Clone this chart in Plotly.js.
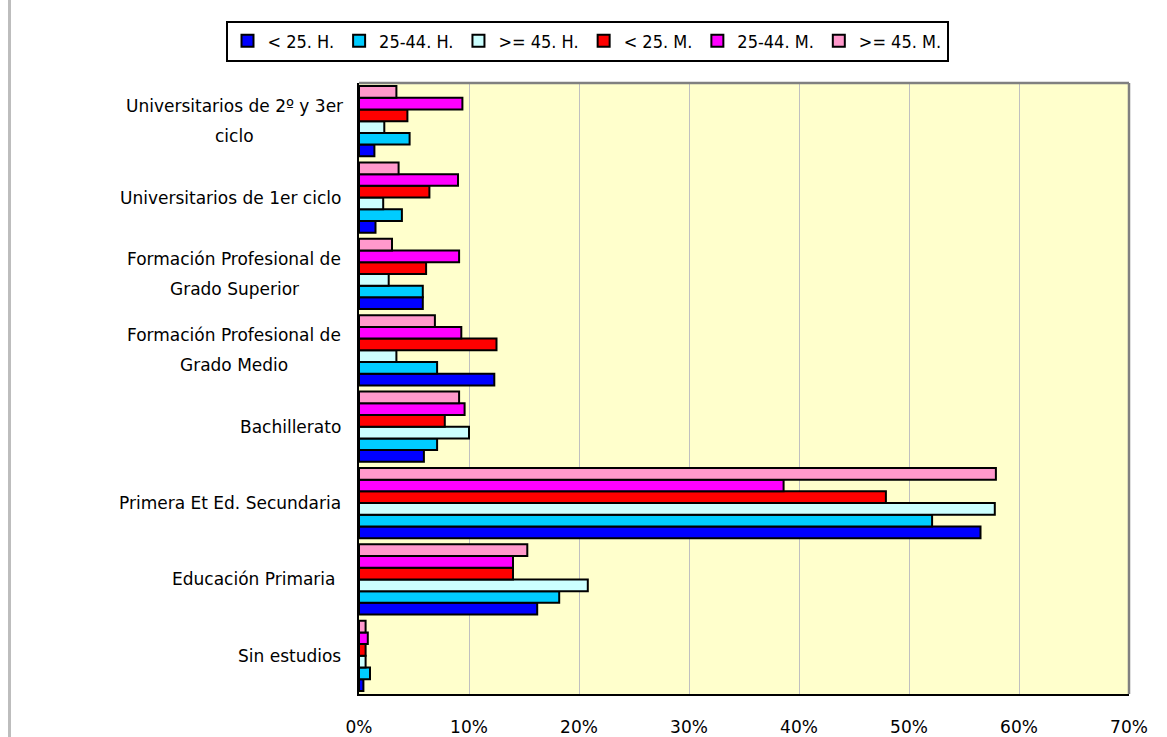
<!DOCTYPE html>
<html>
<head>
<meta charset="utf-8">
<script src="https://cdn.plot.ly/plotly-3.0.1.min.js"></script>
<style>
  html, body { margin: 0; padding: 0; background: #ffffff; }
  #chart { width: 1167px; height: 737px; position: relative; }
  #edge { position: absolute; left: 8px; top: 0; width: 3px; height: 737px; background: #bdbdbd; z-index: 5; }
</style>
</head>
<body>
<div id="edge"></div>
<div id="chart"></div>
<script>
// Categories (bottom to top); "\n" marks a line break in the axis label
const categories = [
  "Sin estudios",
  "Educación Primaria ",
  "Primera Et Ed. Secundaria",
  "Bachillerato",
  "Formación Profesional de\nGrado Medio",
  "Formación Profesional de\nGrado Superior",
  "Universitarios de 1er ciclo",
  "Universitarios de 2º y 3er\nciclo"
];

const seriesNames = ["< 25. H.", "25-44. H.", ">= 45. H.", "< 25. M.", "25-44. M.", ">= 45. M."];
const seriesColors = ["#0000FF", "#00CCFF", "#CCFFFF", "#FF0000", "#FF00FF", "#FF99CC"];

// Values in percent, same order as categories
const hLt25   = [0.4, 16.2, 56.5, 5.9, 12.3, 5.8, 1.5, 1.4];
const h25to44 = [1.0, 18.2, 52.1, 7.1, 7.1, 5.8, 3.9, 4.6];
const hGe45   = [0.6, 20.8, 57.8, 10.0, 3.4, 2.7, 2.2, 2.3];
const mLt25   = [0.6, 14.0, 47.9, 7.8, 12.5, 6.1, 6.4, 4.4];
const m25to44 = [0.8, 14.0, 38.6, 9.6, 9.3, 9.1, 9.0, 9.4];
const mGe45   = [0.6, 15.3, 57.9, 9.1, 6.9, 3.0, 3.6, 3.4];

const seriesValues = [hLt25, h25to44, hGe45, mLt25, m25to44, mGe45];

const xTicks = [0, 10, 20, 30, 40, 50, 60, 70];

const traces = seriesNames.map((name, i) => ({
  type: "bar",
  orientation: "h",
  name: name,
  y: categories,
  x: seriesValues[i],
  marker: { color: seriesColors[i], line: { color: "#000000", width: 2 } },
  hoverinfo: "x+y+name"
}));

const labelFont = { family: "DejaVu Sans, Verdana, sans-serif", size: 17, color: "#000000" };
const plotLeft = 359, plotWidth = 770;
const annotations = [];
categories.forEach(c => {
  const lines = c.split("\n");
  if (lines.length === 1) {
    annotations.push({
      text: lines[0], xref: "paper", yref: "y", x: (343 - plotLeft) / plotWidth, y: c,
      xanchor: "right", yanchor: "middle", showarrow: false, font: labelFont
    });
  } else {
    lines.forEach((ln, k) => {
      annotations.push({
        text: ln, xref: "paper", yref: "y", x: (234 - plotLeft) / plotWidth, y: c,
        xanchor: "center", yanchor: "middle", showarrow: false, font: labelFont,
        yshift: (lines.length - 1) * 15 - k * 30
      });
    });
  }
});

const layout = {
  width: 1167,
  height: 737,
  margin: { l: 359, r: 38, t: 83, b: 43, pad: 0 },
  paper_bgcolor: "#ffffff",
  plot_bgcolor: "#FFFFCC",
  barmode: "group",
  bargap: 0.08,
  bargroupgap: 0,
  showlegend: true,
  legend: {
    orientation: "h",
    xref: "container",
    yref: "container",
    x: 0.503,
    xanchor: "center",
    y: 0.972,
    yanchor: "top",
    traceorder: "normal",
    bgcolor: "#ffffff",
    bordercolor: "#000000",
    borderwidth: 2,
    itemwidth: 30,
    font: { family: "DejaVu Sans Condensed, Liberation Sans Narrow, Arial Narrow, sans-serif", size: 18, color: "#000000" }
  },
  xaxis: {
    range: [0, 70],
    tickvals: xTicks,
    ticktext: xTicks.map(v => v + "%"),
    showgrid: true,
    gridcolor: "#C0C0C0",
    gridwidth: 1,
    zeroline: false,
    showline: true,
    linecolor: "#000000",
    linewidth: 2,
    ticks: "",
    ticklabelstandoff: 17,
    tickfont: { family: "DejaVu Sans, Verdana, sans-serif", size: 17, color: "#000000" },
    fixedrange: true
  },
  yaxis: {
    type: "category",
    categoryorder: "array",
    categoryarray: categories,
    showticklabels: false,
    showgrid: false,
    zeroline: false,
    showline: true,
    linecolor: "#000000",
    linewidth: 2,
    ticks: "",
    fixedrange: true
  },
  shapes: [
    { type: "line", xref: "paper", yref: "paper", x0: 0, x1: 1, y0: 1, y1: 1, line: { color: "#808080", width: 2.5 } },
    { type: "line", xref: "paper", yref: "paper", x0: 1, x1: 1, y0: 0, y1: 1, line: { color: "#808080", width: 2.5 } }
  ],
  annotations: annotations
};

Plotly.newPlot("chart", traces, layout, { displayModeBar: false, staticPlot: true });
</script>
</body>
</html>
